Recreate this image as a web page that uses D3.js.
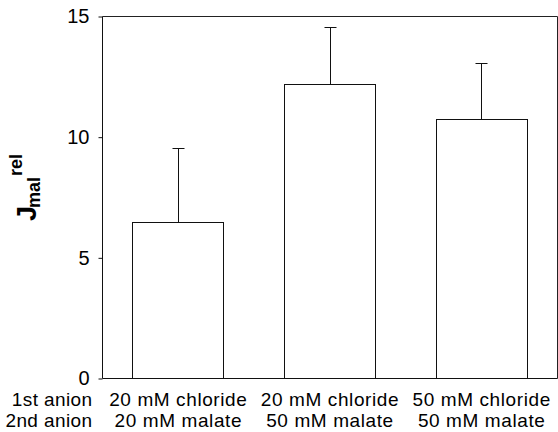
<!DOCTYPE html>
<html>
<head>
<meta charset="utf-8">
<script src="https://cdn.jsdelivr.net/npm/d3@7"></script>
<style>
    body { margin: 0; background: #fff; }
    svg { display: block; font-family: "Liberation Sans", Arial, sans-serif; }
</style>
</head>
<body>
<svg id="vis" width="558" height="432"></svg>
<script>
// values
const firstAnion = ["20 mM chloride", "20 mM chloride", "50 mM chloride"];
const secondAnion = ["20 mM malate", "50 mM malate", "50 mM malate"];
const jRel = [6.45, 12.2, 10.75];
const jErr = [3.1, 2.35, 2.3];
const yTicks = [0, 5, 10, 15];

function draw() {
    let margin = {
        top: 16,
        right: 1,
        bottom: 54,
        left: 102
    }

    let svg = d3.select("#vis");
    let width = +svg.attr("width") - margin.left - margin.right;
    let height = +svg.attr("height") - margin.top - margin.bottom;
    let g = svg.append("g").attr("transform", `translate(${margin.left + 0.5}, ${margin.top + 0.5})`);

    let data = jRel.map((v, i) => ({ i: i, v: v, e: jErr[i] }));

    let x = d3.scaleBand()
        .domain(data.map(d => d.i))
        .range([0, width])
        .paddingInner(0.4)
        .paddingOuter(0.2);
    let y = d3.scaleLinear()
        .domain([0, 15])
        .range([height, 0]);

    // frame top + right
    g.append("path")
        .attr("d", `M0,0H${width}V${height}`)
        .attr("fill", "none")
        .attr("stroke", "#222")
        .attr("stroke-width", 1);

    // bars
    g.selectAll(".bar")
        .data(data)
        .enter().append("rect")
            .attr("class", "bar")
            .attr("x", d => Math.round(x(d.i)))
            .attr("y", d => Math.round(y(d.v)))
            .attr("width", Math.round(x.bandwidth()))
            .attr("height", d => Math.round(height - y(d.v)))
            .attr("fill", "#fff")
            .attr("stroke", "#111")
            .attr("stroke-width", 1);

    // error bars, upper only
    let cap = 6;
    g.selectAll(".err")
        .data(data)
        .enter().append("path")
            .attr("class", "err")
            .attr("d", d => {
                let cx = Math.round(x(d.i) + x.bandwidth() / 2);
                let y0 = Math.round(y(d.v));
                let y1 = Math.round(y(d.v + d.e));
                return `M${cx},${y0}V${y1}M${cx - cap},${y1}H${cx + cap}`;
            })
            .attr("fill", "none")
            .attr("stroke", "#111")
            .attr("stroke-width", 1);

    // axes
    let yAxis = g.append("g")
        .call(d3.axisLeft(y).tickValues(yTicks).tickSize(4).tickPadding(9));
    yAxis.select(".domain").attr("d", `M0,0V${height}`).attr("stroke", "#111");
    yAxis.selectAll(".tick line").attr("stroke", "#111");
    yAxis.selectAll(".tick text")
        .attr("font-size", 20)
        .attr("font-family", "Liberation Sans, Arial, sans-serif")
        .attr("fill", "#000");

    g.append("line")
        .attr("x1", 0).attr("x2", width)
        .attr("y1", height).attr("y2", height)
        .attr("stroke", "#111");

    // category labels, two rows
    let rows = [firstAnion, secondAnion];
    let rowNames = ["1st anion", "2nd anion"];
    let rowY = [height + 27, height + 48];
    rows.forEach((row, r) => {
        g.append("text")
            .attr("x", -10)
            .attr("y", rowY[r])
            .attr("text-anchor", "end")
            .attr("font-size", 19)
            .attr("letter-spacing", 0.4)
            .text(rowNames[r]);
        g.selectAll(".lab" + r)
            .data(row)
            .enter().append("text")
                .attr("class", "lab" + r)
                .attr("x", (d, i) => x(i) + x.bandwidth() / 2)
                .attr("y", rowY[r])
                .attr("text-anchor", "middle")
                .attr("font-size", 19)
                .attr("letter-spacing", 0.6)
                .text(d => d);
    });

    // y label: J with subscript mal and superscript rel
    svg.append("text")
        .attr("transform", "translate(36,221) rotate(-90)")
        .attr("font-size", 27)
        .attr("font-weight", "bold")
        .text("J");
    svg.append("text")
        .attr("transform", "translate(40,208) rotate(-90)")
        .attr("font-size", 18)
        .attr("font-weight", "bold")
        .text("mal");
    svg.append("text")
        .attr("transform", "translate(22,176) rotate(-90)")
        .attr("font-size", 18)
        .attr("font-weight", "bold")
        .text("rel");
}

document.addEventListener('DOMContentLoaded', () => {
    draw();
})
</script>
</body>
</html>
